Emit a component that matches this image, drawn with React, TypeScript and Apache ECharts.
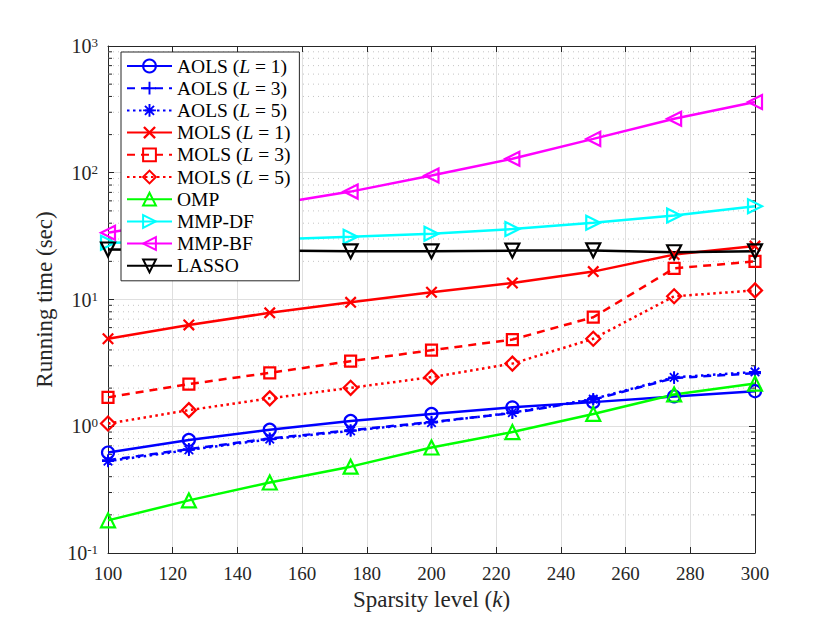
import React, { useEffect, useRef } from "react";
import * as echarts from "echarts";

const sparsity = [100, 125, 150, 175, 200, 225, 250, 275, 300];
const aols1 = [0.62, 0.78, 0.94, 1.1, 1.25, 1.41, 1.55, 1.72, 1.89];
const aols3 = [0.54, 0.66, 0.8, 0.93, 1.08, 1.27, 1.62, 2.4, 2.62];
const aols5 = [0.53, 0.65, 0.79, 0.92, 1.07, 1.28, 1.64, 2.43, 2.68];
const mols1 = [4.9, 6.3, 7.85, 9.5, 11.4, 13.5, 16.6, 22.6, 26.4];
const mols3 = [1.69, 2.15, 2.64, 3.26, 3.98, 4.83, 7.25, 17.6, 20.0];
const mols5 = [1.05, 1.34, 1.66, 2.01, 2.44, 3.12, 4.9, 10.6, 11.8];
const omp = [0.181, 0.26, 0.36, 0.48, 0.68, 0.9, 1.25, 1.78, 2.17];
const mmpdf = [28.0, 28.6, 29.8, 31.3, 33.0, 36.0, 40.3, 46.0, 54.5];
const mmpbf = [33.6, 43, 56, 71, 95, 129, 185, 267, 361];
const lasso = [24.8, 24.6, 24.4, 24.0, 24.0, 24.3, 24.4, 23.6, 24.0];

const xTicks = { min: 100, max: 300, interval: 20 };
const yRange = { min: 0.1, max: 1000 };
const minorMultipliers = [2, 3, 4, 5, 6, 7, 8, 9];
const decades = [0.1, 1, 10, 100];

const FONT = "Liberation Serif";
const AXIS_COLOR = "#262626";

function bar(angleDeg: number): string {
  const a = (angleDeg * Math.PI) / 180;
  const L = 6;
  const t = 0.9;
  const c = Math.cos(a);
  const s = Math.sin(a);
  const pts = [
    [-L, -t],
    [L, -t],
    [L, t],
    [-L, t],
  ].map(([x, y]) => [x * c - y * s, x * s + y * c]);
  return (
    "M" +
    pts.map((p) => p[0].toFixed(3) + "," + p[1].toFixed(3)).join("L") +
    "Z"
  );
}
const plusPath = "path://" + bar(0) + bar(90);
const crossPath = "path://" + bar(45) + bar(135);
const starPath = "path://" + bar(0) + bar(45) + bar(90) + bar(135);

const HOLLOW = "rgba(0,0,0,0)";

type SDef = {
  name: string;
  data: number[];
  color: string;
  dash: any;
  symbol: string;
  size: number;
  rotate?: number;
  filled?: boolean;
};

const defs: SDef[] = [
  { name: "AOLS (L = 1)", data: aols1, color: "#0000ff", dash: "solid", symbol: "circle", size: 12 },
  { name: "AOLS (L = 3)", data: aols3, color: "#0000ff", dash: [8, 6], symbol: plusPath, size: 12, filled: true },
  { name: "AOLS (L = 5)", data: aols5, color: "#0000ff", dash: [2.5, 3.5], symbol: starPath, size: 12, filled: true },
  { name: "MOLS (L = 1)", data: mols1, color: "#ff0000", dash: "solid", symbol: crossPath, size: 12, filled: true },
  { name: "MOLS (L = 3)", data: mols3, color: "#ff0000", dash: [8, 6], symbol: "rect", size: 11 },
  { name: "MOLS (L = 5)", data: mols5, color: "#ff0000", dash: [2.5, 3.5], symbol: "diamond", size: 14 },
  { name: "OMP", data: omp, color: "#00ff00", dash: "solid", symbol: "triangle", size: 14 },
  { name: "MMP-DF", data: mmpdf, color: "#00ffff", dash: "solid", symbol: "triangle", size: 14, rotate: -90 },
  { name: "MMP-BF", data: mmpbf, color: "#ff00ff", dash: "solid", symbol: "triangle", size: 14, rotate: 90 },
  { name: "LASSO", data: lasso, color: "#000000", dash: "solid", symbol: "triangle", size: 14, rotate: 180 },
];

function legendFormatter(name: string): string {
  const m = name.match(/^(.*\()L( = \d\))$/);
  if (m) return `{n|${m[1]}}{i|L}{n|${m[2]}}`;
  return `{n|${name}}`;
}

export default function App() {
  const ref = useRef<HTMLDivElement>(null);
  useEffect(() => {
    if (!ref.current) return;
    const chart = echarts.init(ref.current, null, { renderer: "svg" });

    const minorData: number[][] = [];
    decades.forEach((d) =>
      minorMultipliers.forEach((m) => minorData.push([xTicks.min, +(m * d).toPrecision(3)]))
    );

    const lineSeries = defs.map((d) => ({
      type: "line",
      name: d.name,
      data: sparsity.map((k, i) => [k, d.data[i]]),
      symbol: d.symbol,
      symbolSize: d.size,
      symbolRotate: d.rotate || 0,
      showAllSymbol: true,
      lineStyle: { color: d.color, width: 2.5, type: d.dash },
      itemStyle: d.filled
        ? { color: d.color, borderWidth: 0 }
        : { color: HOLLOW, borderColor: d.color, borderWidth: 2.2 },
      emphasis: { disabled: true },
      z: 3,
    }));

    const minorSeries = {
      type: "custom",
      name: "minor",
      silent: true,
      z: 1,
      clip: false,
      data: minorData,
      renderItem: (params: any, api: any) => {
        const v = api.value(1);
        const pl = api.coord([xTicks.min, v]);
        const pr = api.coord([xTicks.max, v]);
        return {
          type: "group",
          children: [
            {
              type: "line",
              shape: { x1: pl[0], y1: pl[1], x2: pr[0], y2: pr[1] },
              style: { stroke: "#c4c4c4", lineWidth: 1, lineDash: [1, 4] },
            },
            {
              type: "line",
              shape: { x1: pl[0], y1: pl[1], x2: pl[0] + 4, y2: pl[1] },
              style: { stroke: AXIS_COLOR, lineWidth: 1 },
            },
            {
              type: "line",
              shape: { x1: pr[0], y1: pr[1], x2: pr[0] - 4, y2: pr[1] },
              style: { stroke: AXIS_COLOR, lineWidth: 1 },
            },
          ],
        };
      },
    };

    const labelStyle = { fontFamily: FONT, fontSize: 19, color: AXIS_COLOR };

    chart.setOption({
      animation: false,
      backgroundColor: "#ffffff",
      grid: { left: 108, right: 75, top: 46, bottom: 70, containLabel: false },
      legend: {
        data: defs.map((d) => d.name),
        orient: "vertical",
        left: 121,
        top: 52,
        padding: [4, 9, 5, 5],
        itemWidth: 45,
        itemHeight: 16,
        itemGap: 2.2,
        backgroundColor: "#ffffff",
        borderColor: AXIS_COLOR,
        borderWidth: 1,
        borderRadius: 0,
        selectedMode: false,
        formatter: legendFormatter,
        textStyle: {
          fontFamily: FONT,
          fontSize: 19.5,
          color: "#000",
          lineHeight: 16,
          rich: {
            n: { fontFamily: FONT, fontSize: 19.5, color: "#000", lineHeight: 16 },
            i: { fontFamily: FONT, fontSize: 19.5, fontStyle: "italic", color: "#000", lineHeight: 16 },
          },
        },
      },
      xAxis: [
        {
          type: "value",
          position: "bottom",
          min: xTicks.min,
          max: xTicks.max,
          interval: xTicks.interval,
          axisLine: { show: true, onZero: false, lineStyle: { color: AXIS_COLOR, width: 1 } },
          axisTick: { show: true, inside: true, length: 6, lineStyle: { color: AXIS_COLOR } },
          axisLabel: { ...labelStyle, margin: 11 },
          splitLine: { show: true, lineStyle: { color: "#dfdfdf", width: 1 } },
          name: "{n|Sparsity level (}{i|k}{n|)}",
          nameLocation: "middle",
          nameGap: 34,
          nameTextStyle: {
            fontFamily: FONT,
            fontSize: 23,
            color: AXIS_COLOR,
            rich: {
              n: { fontFamily: FONT, fontSize: 23, color: AXIS_COLOR },
              i: { fontFamily: FONT, fontSize: 23, fontStyle: "italic", color: AXIS_COLOR },
            },
          },
        },
        {
          type: "value",
          position: "top",
          min: xTicks.min,
          max: xTicks.max,
          interval: xTicks.interval,
          axisLine: { show: true, onZero: false, lineStyle: { color: AXIS_COLOR, width: 1 } },
          axisTick: { show: true, inside: true, length: 6, lineStyle: { color: AXIS_COLOR } },
          axisLabel: { show: false },
          splitLine: { show: false },
        },
      ],
      yAxis: [
        {
          type: "log",
          logBase: 10,
          position: "left",
          min: yRange.min,
          max: yRange.max,
          axisLine: { show: true, onZero: false, lineStyle: { color: AXIS_COLOR, width: 1 } },
          axisTick: { show: true, inside: true, length: 6, lineStyle: { color: AXIS_COLOR } },
          axisLabel: {
            margin: 10,
            formatter: (v: number) => `{b|10}{s|${Math.round(Math.log10(v))}}`,
            rich: {
              b: { fontFamily: FONT, fontSize: 20, color: AXIS_COLOR, lineHeight: 20, padding: [8, 0, 0, 0], verticalAlign: "bottom" },
              s: { fontFamily: FONT, fontSize: 13, color: AXIS_COLOR, lineHeight: 13, verticalAlign: "top" },
            },
          },
          splitLine: { show: true, lineStyle: { color: "#dfdfdf", width: 1 } },
          name: "Running time (sec)",
          nameLocation: "middle",
          nameGap: 47,
          nameTextStyle: { fontFamily: FONT, fontSize: 23, color: AXIS_COLOR },
        },
        {
          type: "log",
          logBase: 10,
          position: "right",
          min: yRange.min,
          max: yRange.max,
          axisLine: { show: true, onZero: false, lineStyle: { color: AXIS_COLOR, width: 1 } },
          axisTick: { show: true, inside: true, length: 6, lineStyle: { color: AXIS_COLOR } },
          axisLabel: { show: false },
          splitLine: { show: false },
        },
      ],
      series: [minorSeries, ...lineSeries],
    });
    return () => chart.dispose();
  }, []);
  return (
    <div
      ref={ref}
      style={{ position: "absolute", left: 0, top: 0, width: 830, height: 623 }}
    />
  );
}
